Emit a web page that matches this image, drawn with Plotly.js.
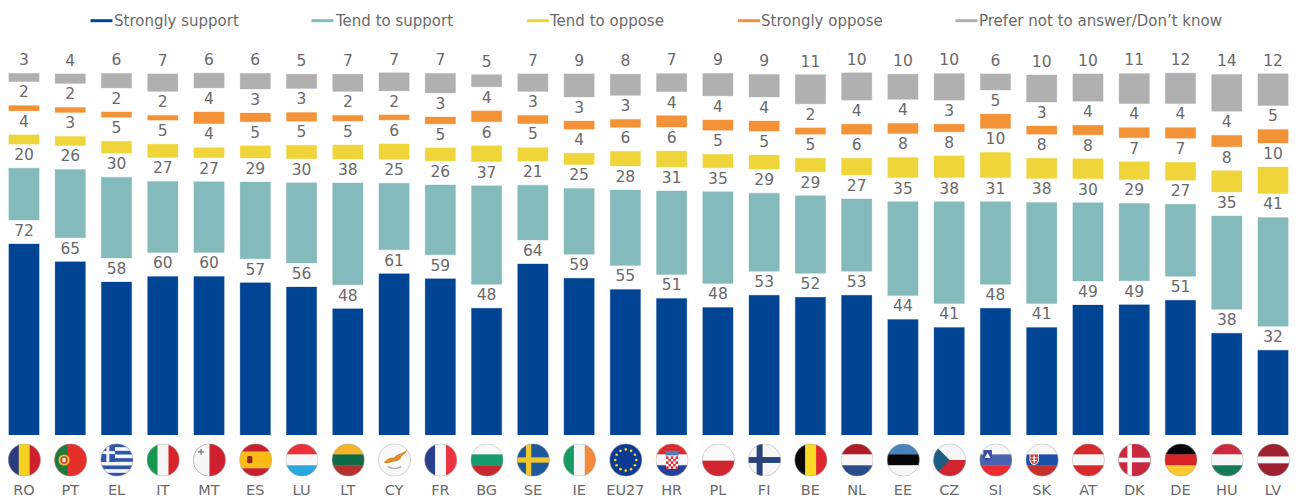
<!DOCTYPE html>
<html>
<head>
<meta charset="utf-8">
<script src="https://cdn.plot.ly/plotly-3.0.1.min.js"></script>
<style>html,body{margin:0;padding:0;background:#fff}#chart{width:1298px;height:498px}</style>
</head>
<body>
<div id="chart"></div>
<script>
const countries = ['RO','PT','EL','IT','MT','ES','LU','LT','CY','FR','BG','SE','IE','EU27','HR','PL','FI','BE','NL','EE','CZ','SI','SK','AT','DK','DE','HU','LV'];
const stronglySupport = [71.9,65.2,57.6,59.7,59.7,57.3,55.7,47.5,60.7,58.8,47.7,64.4,59.0,54.8,51.4,48.0,52.6,51.8,52.6,43.5,40.5,47.7,40.5,48.9,49.0,50.7,38.3,31.9];
const tendSupport = [19.5,25.7,30.4,26.7,26.6,28.9,30.2,38.3,25.0,26.3,37.1,20.6,24.7,28.4,31.4,34.5,29.4,29.2,27.2,35.3,38.3,31.1,38.0,29.5,29.1,27.1,35.1,40.9];
const tendOppose = [3.5,3.4,4.5,5.0,3.8,4.6,5.1,5.3,5.8,4.9,6.0,5.1,4.3,5.5,6.0,5.1,5.3,5.1,6.3,7.6,8.2,9.5,7.6,7.5,6.7,6.8,8.0,10.0];
const stronglyOppose = [2.0,1.9,2.0,1.8,4.4,3.3,3.3,2.1,1.9,2.6,4.1,3.1,3.1,3.0,4.3,3.9,3.8,2.4,3.8,3.8,2.9,5.4,3.1,3.6,3.8,4.0,4.3,5.1];
const preferNot = [3.1,3.6,5.5,6.6,5.6,5.9,5.4,6.5,6.8,7.4,4.6,6.6,8.7,8.0,6.8,8.5,8.5,11.0,10.3,9.5,10.0,6.1,10.2,10.3,11.3,11.5,13.9,11.9];
const seriesNames = ['Strongly support','Tend to support','Tend to oppose','Strongly oppose','Prefer not to answer/Don\u2019t know'];
const seriesValues = [stronglySupport,tendSupport,tendOppose,stronglyOppose,preferNot];
const seriesColors = ['#004494','#84BABB','#EFD53A','#F39237','#B0B0B0'];
const seriesEdges = ['rgba(0,68,148,.28)','rgba(132,186,187,.35)','rgba(239,213,58,.3)','rgba(243,146,55,.3)','rgba(176,176,176,.3)'];
const legendLineX = [90.5,311.5,527,738,955.5];
const legendTextX = [112,332.5,547,759,976.5];

const GAP = 9.03;           // blank band (in % units) holding each label
const TEXT = '#6a6a6a';
const FONT = '"DejaVu Sans", Verdana, sans-serif';

// ---- traces: every bar sits on the running total plus one label band per lower series
const running = countries.map(() => 0);
const bars = [], labelX = [], labelY = [], labelT = [];
seriesValues.forEach((vals, s) => {
  bars.push({
    type:'bar', name:seriesNames[s], x:countries, y:vals, base:running.slice(),
    width:0.655, showlegend:false, hoverinfo:'x+y+name',
    marker:{color:seriesColors[s], line:{color:seriesEdges[s], width:1}}
  });
  vals.forEach((v,i) => {
    running[i] += v;
    labelX.push(countries[i]);
    labelY.push(running[i] + GAP/2);
    labelT.push(String(Math.round(v)));
    running[i] += GAP;
  });
});
const labels = {type:'scatter', mode:'text', x:labelX, y:labelY, text:labelT,
  textposition:'middle center', cliponaxis:false, showlegend:false, hoverinfo:'skip',
  textfont:{family:FONT, size:15.5, color:TEXT}};

// ---- round flags, drawn as small inline SVGs under the axis
const H = (a,b,c) => `<rect width="100" height="34" fill="${a}"/><rect y="33" width="100" height="34" fill="${b}"/><rect y="66" width="100" height="34" fill="${c}"/>`;
const V = (a,b,c) => `<rect width="34" height="100" fill="${a}"/><rect x="33" width="34" height="100" fill="${b}"/><rect x="66" width="34" height="100" fill="${c}"/>`;
const BG = c => `<rect width="100" height="100" fill="${c}"/>`;
const R = (x,y,w,h,c) => `<rect x="${x}" y="${y}" width="${w}" height="${h}" fill="${c}"/>`;
const euStars = (() => { let s=''; for(let k=0;k<12;k++){const a=k*Math.PI/6; s+=`<circle cx="${50+32*Math.sin(a)}" cy="${50-32*Math.cos(a)}" r="4" fill="#f5d327"/>`;} return s; })();
const grStripes = (() => { let s=BG('#2f55a8'); for(let k=1;k<9;k+=2){ s+=R(0,k*11.1,100,11.1,'#f7f7f7'); } s+=R(0,0,44,55.5,'#2f55a8')+R(18,0,9,55.5,'#f7f7f7')+R(0,23,44,9,'#f7f7f7'); return s; })();
const hrCheck = (() => { let s=R(32,39,36,38,'#f7f7f7'); for(let r=0;r<5;r++)for(let c=0;c<5;c++){ if((r+c)%2===0) s+=R(32+c*7.2,39+r*7.6,7.2,7.6,'#d8232f'); } return s; })();
const flags = {
  RO:V('#2b3b80','#f4d21f','#cf2030'),
  PT:BG('#e62e2b')+R(0,0,40,100,'#1e7a3e')+'<circle cx="30" cy="50" r="17" fill="#e9c235"/><circle cx="30" cy="50" r="11" fill="#c8402e"/><rect x="25" y="44" width="10" height="12" fill="#efefef"/>',
  EL:grStripes,
  IT:V('#16994f','#f6f6f6','#d8232a'),
  MT:BG('#cf2030')+R(0,0,50,100,'#f7f7f7')+'<path d="M22 17h5v6h6v5h-6v6h-5v-6h-6v-5h6z" fill="#8f8f8f"/>',
  ES:R(0,0,100,25,'#c8202a')+R(0,25,100,50,'#fdbb16')+R(0,75,100,25,'#c8202a')+'<rect x="24" y="38" width="16" height="22" rx="5" fill="#8c2a1c"/>',
  LU:H('#ed2f3a','#f7f7f7','#2aa7dc'),
  LT:H('#f5b427','#0f6b45','#b5302e'),
  CY:BG('#f9f9f9')+'<path d="M19 55l14-10 16-3 9-8 15-5 17-11-9 14-9 6-4 9-12 7-14 2-12 4-11-1z" fill="#e08a2a"/><path d="M30 70q20 12 40 0" fill="none" stroke="#9db58e" stroke-width="4"/>',
  FR:V('#27408b','#f7f7f7','#ee3340'),
  BG:H('#f9f9f9','#169b6b','#c8282d'),
  SE:BG('#1c5a9c')+R(0,42,100,16,'#f2c72e')+R(28,0,16,100,'#f2c72e'),
  IE:V('#169b62','#f7f7f7','#f58a3c'),
  EU27:BG('#0b3a94')+euStars,
  HR:H('#e02b2f','#f7f7f7','#25409a')+R(30,22,40,14,'#4e7fb8')+hrCheck,
  PL:R(0,0,100,52,'#fafafa')+R(0,52,100,48,'#d0242f'),
  FI:BG('#f7f7f7')+R(0,41,100,18,'#26437e')+R(26,0,18,100,'#26437e'),
  BE:V('#0a0a0a','#fdda25','#e0252f'),
  NL:H('#ae1c28','#f7f7f7','#2a4c8c'),
  EE:H('#4a84c0','#050505','#f7f7f7'),
  CZ:R(0,0,100,50,'#f7f7f7')+R(0,50,100,50,'#d0242f')+'<path d="M0 0L50 50L0 100z" fill="#1b5e82"/>',
  SI:H('#f7f7f7','#4a63b0','#ee2b30')+'<path d="M12 20h26v22q-3 8-13 12q-10-4-13-12z" fill="#3a4da0"/><path d="M25 28l9 16h-18z" fill="#f7f7f7"/>',
  SK:H('#f7f7f7','#1a50a8','#c6302d')+'<path d="M12 30h28v22q-2 10-14 14q-12-4-14-14z" fill="#f7f7f7"/><path d="M15 33h22v19q-2 8-11 11q-9-3-11-11z" fill="#d32f33"/><path d="M24 36h4v6h6v3h-6v5h6v3h-6v6h-4v-6h-6v-3h6v-5h-6v-3h6z" fill="#f7f7f7"/>',
  AT:H('#d8282a','#f7f7f7','#d8282a'),
  DK:BG('#c9283e')+R(0,43,100,14,'#f7f7f7')+R(28,0,14,100,'#f7f7f7'),
  DE:H('#050505','#da2128','#fdc92f'),
  HU:H('#cd2a3e','#f7f7f7','#147b55'),
  LV:R(0,0,100,40,'#9e2030')+R(0,40,100,20,'#f7f7f7')+R(0,60,100,40,'#9e2030')
};
const flagUri = code => 'data:image/svg+xml;charset=utf-8,' + encodeURIComponent(
  `<svg xmlns="http://www.w3.org/2000/svg" width="100" height="100" viewBox="0 0 100 100"><defs><clipPath id="c"><circle cx="50" cy="50" r="49"/></clipPath></defs><g clip-path="url(#c)">${flags[code]}</g><circle cx="50" cy="50" r="49" fill="none" stroke="#a8a8a8" stroke-width="1.5"/></svg>`);

const PLOT_H = 435, PX_PER_UNIT = 2.657, PITCH = 46.26, W = 1298;
const images = countries.map((c,i) => ({
  source:flagUri(c), xref:'paper', yref:'paper',
  x:(24.4 + PITCH*i)/W, y:(PLOT_H-460)/PLOT_H,
  sizex:33/W, sizey:33/PLOT_H, xanchor:'center', yanchor:'middle', sizing:'stretch', layer:'above'
}));

// ---- legend: line swatches with text
const shapes = seriesNames.map((n,s) => ({type:'line', xref:'paper', yref:'paper',
  x0:legendLineX[s]/W, x1:(legendLineX[s]+22)/W, y0:(PLOT_H-20.7)/PLOT_H, y1:(PLOT_H-20.7)/PLOT_H,
  line:{color:seriesColors[s], width:3}}));
const annotations = seriesNames.map((n,s) => ({xref:'paper', yref:'paper', showarrow:false,
  x:legendTextX[s]/W, y:(PLOT_H-20.7)/PLOT_H, xanchor:'left', yanchor:'middle', text:n,
  font:{family:FONT, size:15, color:TEXT}}));

const layout = {
  width:W, height:498, margin:{l:0,r:0,t:0,b:63}, paper_bgcolor:'#fff', plot_bgcolor:'#fff',
  barmode:'overlay', showlegend:false, font:{family:FONT, color:TEXT},
  xaxis:{type:'category', categoryorder:'array', categoryarray:countries,
    range:[-24/PITCH, (W-24)/PITCH], showgrid:false, showline:false, zeroline:false, ticks:'',
    ticklabelstandoff:44, tickfont:{family:FONT, size:14.5, color:TEXT}, tickangle:0, automargin:false},
  yaxis:{range:[0, PLOT_H/PX_PER_UNIT], visible:false, fixedrange:true},
  images, shapes, annotations
};
Plotly.newPlot('chart', bars.concat([labels]), layout, {displayModeBar:false, staticPlot:true});
</script>
</body>
</html>
